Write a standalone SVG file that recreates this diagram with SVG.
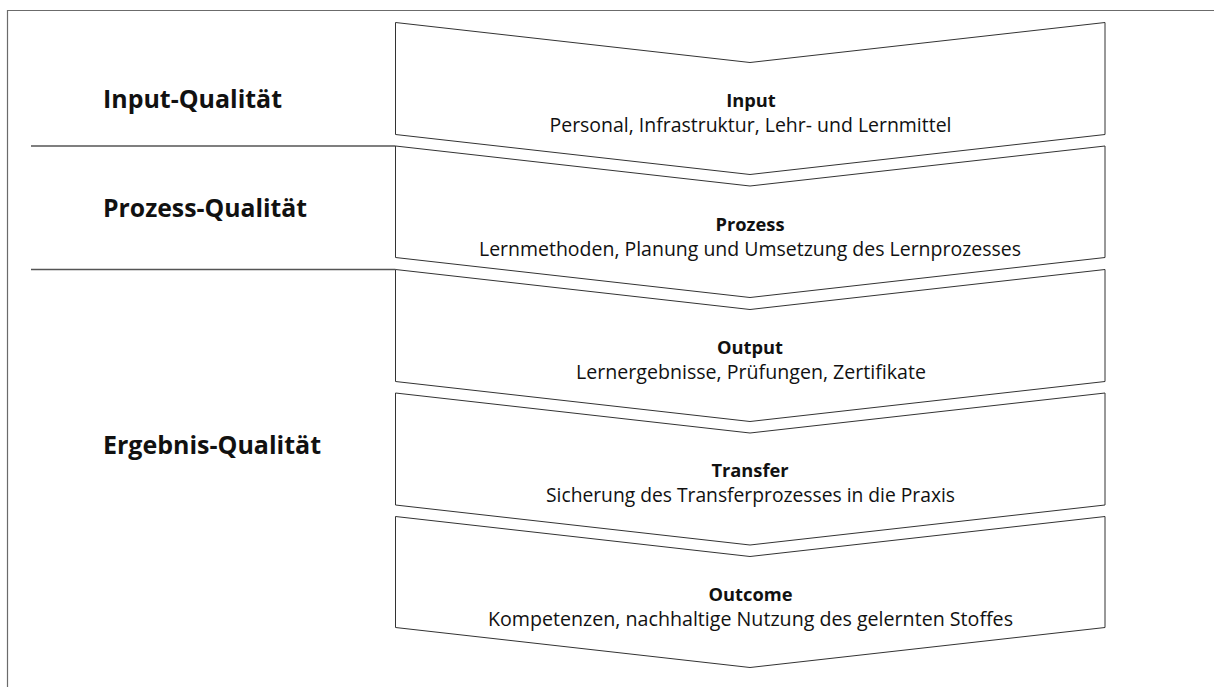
<svg xmlns="http://www.w3.org/2000/svg" width="1214" height="687" viewBox="0 0 1214 687">
<style>
.frame{fill:none;stroke:#6b6b6b;stroke-width:1.2}
.div{fill:none;stroke:#555;stroke-width:1.3}
.chev{fill:#fff;stroke:#333;stroke-width:1}
.lab{font-family:"Open Sans","Noto Sans",sans-serif;font-weight:bold;font-size:25px;fill:#111}
.t{font-family:"Open Sans","Noto Sans",sans-serif;font-weight:bold;font-size:18.3px;fill:#111;text-anchor:middle}
.s{font-family:"Open Sans","Noto Sans",sans-serif;font-size:19.5px;fill:#111;text-anchor:middle}
</style>
<rect width="1214" height="687" fill="#fff"/>
<path class="frame" d="M7.5,700 V10.5 H1220"/>
<g id="labels">
<text class="lab" x="103" y="108" textLength="179" lengthAdjust="spacingAndGlyphs">Input-Qualität</text>
<text class="lab" x="103" y="217" textLength="204" lengthAdjust="spacingAndGlyphs">Prozess-Qualität</text>
<text class="lab" x="103" y="454" textLength="218" lengthAdjust="spacingAndGlyphs">Ergebnis-Qualität</text>
</g>
<g id="connectors">
<line class="div" x1="31" y1="146" x2="395.5" y2="146"/>
<line class="div" x1="31" y1="269.5" x2="395.5" y2="269.5"/>
</g>
<g id="input">
<polygon class="chev" points="395.5,22.5 750,62.5 1105,22.5 1105,134.5 750,174.5 395.5,134.5"/>
<text class="t" x="751" y="107">Input</text>
<text class="s" x="750.5" y="132" textLength="402" lengthAdjust="spacingAndGlyphs">Personal, Infrastruktur, Lehr- und Lernmittel</text>
</g>
<g id="prozess">
<polygon class="chev" points="395.5,146 750,186 1105,146 1105,257.5 750,297.5 395.5,257.5"/>
<text class="t" x="750" y="230.5">Prozess</text>
<text class="s" x="750" y="255.5" textLength="542" lengthAdjust="spacingAndGlyphs">Lernmethoden, Planung und Umsetzung des Lernprozesses</text>
</g>
<g id="output">
<polygon class="chev" points="395.5,269.5 750,309.5 1105,269.5 1105,381.5 750,421.5 395.5,381.5"/>
<text class="t" x="750" y="354">Output</text>
<text class="s" x="751" y="379" textLength="350" lengthAdjust="spacingAndGlyphs">Lernergebnisse, Prüfungen, Zertifikate</text>
</g>
<g id="transfer">
<polygon class="chev" points="395.5,393 750,433 1105,393 1105,505 750,545 395.5,505"/>
<text class="t" x="750" y="477">Transfer</text>
<text class="s" x="750.5" y="502" textLength="409" lengthAdjust="spacingAndGlyphs">Sicherung des Transferprozesses in die Praxis</text>
</g>
<g id="outcome">
<polygon class="chev" points="395.5,516.5 750,556.5 1105,516.5 1105,627.5 750,667.5 395.5,627.5"/>
<text class="t" x="750.5" y="600.5">Outcome</text>
<text class="s" x="750.5" y="626" textLength="525" lengthAdjust="spacingAndGlyphs">Kompetenzen, nachhaltige Nutzung des gelernten Stoffes</text>
</g>
</svg>
